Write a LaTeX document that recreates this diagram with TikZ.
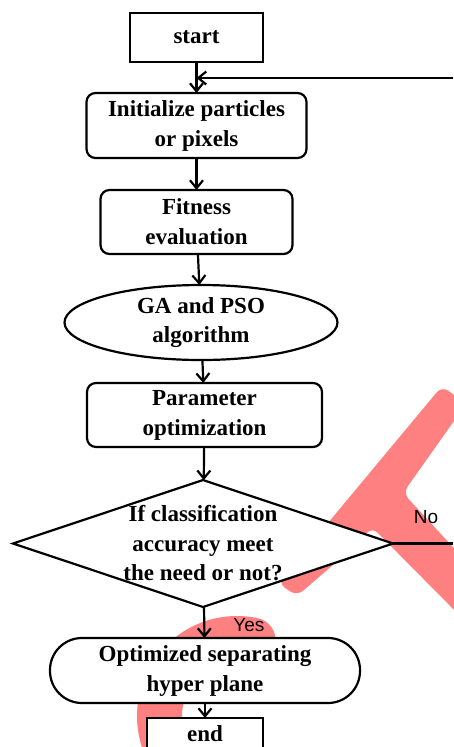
\documentclass[tikz,border=0pt]{standalone}
\usepackage{fontspec}
\setmainfont{Liberation Serif}
\newfontfamily\tagfont{Liberation Sans}
\usepackage{tikz}
\usetikzlibrary{arrows.meta,shapes.geometric,positioning}
\definecolor{markRed}{RGB}{255,128,128}
\tikzset{
  flowBox/.style={rectangle,draw,line width=2.2pt,fill=white,align=center,outer sep=0pt,
                  inner sep=2pt,font=\fontsize{23}{30}\selectfont\bfseries},
  termBox/.style={flowBox},
  stepBox/.style={flowBox,rounded corners=9pt},
  algoShape/.style={ellipse,draw,line width=2.2pt,fill=white,inner sep=0pt,outer sep=0pt,
                    minimum width=273pt,minimum height=75pt},
  decision/.style={diamond,draw,line width=2.2pt,fill=white,inner sep=0pt,outer sep=0pt,
                   minimum width=380pt,minimum height=127pt},
  shapeText/.style={align=center,inner sep=0pt,font=\fontsize{23}{29.5}\selectfont\bfseries},
  flowArrow/.style={-{Straight Barb[length=8pt,width=13pt]},line width=2.2pt},
  edgeTag/.style={inner sep=0pt,font=\tagfont\fontsize{19}{22}\selectfont},
}
\begin{document}
\begin{tikzpicture}
  \useasboundingbox (0,0) rectangle (453pt,-747pt);
  % red marks behind the chart
  \begin{scope}[x=1pt,y=-1pt]
    \fill[markRed,rounded corners=8pt] (442,386) -- (466,404) -- (403,493) -- (476,572)
      -- (476,632) -- (372,527) -- (356,545) -- (297,596) -- (278,583) -- cycle;
  \end{scope}
  \draw[markRed,line width=45pt,line cap=round] (253.1pt,-640.2pt)
    arc[start angle=78,end angle=220,radius=77.5pt];
  % chart
  \node[termBox,minimum width=133pt,minimum height=49pt] (start) at (196.5pt,-37.5pt) {start};
  \node[stepBox,minimum width=220pt,minimum height=65pt,below=31pt of start] (init)
    {Initialize particles\\or pixels};
  \node[stepBox,minimum width=192pt,minimum height=64pt,below=32pt of init] (fit)
    {Fitness\\evaluation};
  \node[algoShape,below=31pt of fit,xshift=4.5pt,
        label={[shapeText]center:GA and PSO\\algorithm}] (gaalg) {};
  \node[stepBox,minimum width=235pt,minimum height=64pt,below=23pt of gaalg,xshift=3.5pt] (param)
    {Parameter\\optimization};
  \node[decision,below=33pt of param,xshift=-1.5pt,
        label={[shapeText]center:If classification\\accuracy meet\\the need or not?}] (check) {};
  \node[stepBox,rounded corners=32pt,minimum width=310pt,minimum height=65pt,
        below=31pt of check,xshift=2pt] (opt) {Optimized separating\\hyper plane};
  \node[termBox,minimum width=116pt,minimum height=32pt,below=15pt of opt] (finish) {end};
  \foreach \a/\b in {start/init,init/fit,fit/gaalg,gaalg/param,param/check,opt/finish}
    {\draw[flowArrow](\a)--(\b);}
  \coordinate (loopIn) at (453pt,-78pt);
  \draw[flowArrow] (loopIn) -- (start |- loopIn);
  \draw[line width=2.2pt] (check.east) -- node[edgeTag,above=19pt,pos=0.55]{No} (check.east -| loopIn);
  \draw[flowArrow] (check) -- node[edgeTag,right=28pt,pos=0.6]{Yes} (opt);
\end{tikzpicture}
\end{document}
